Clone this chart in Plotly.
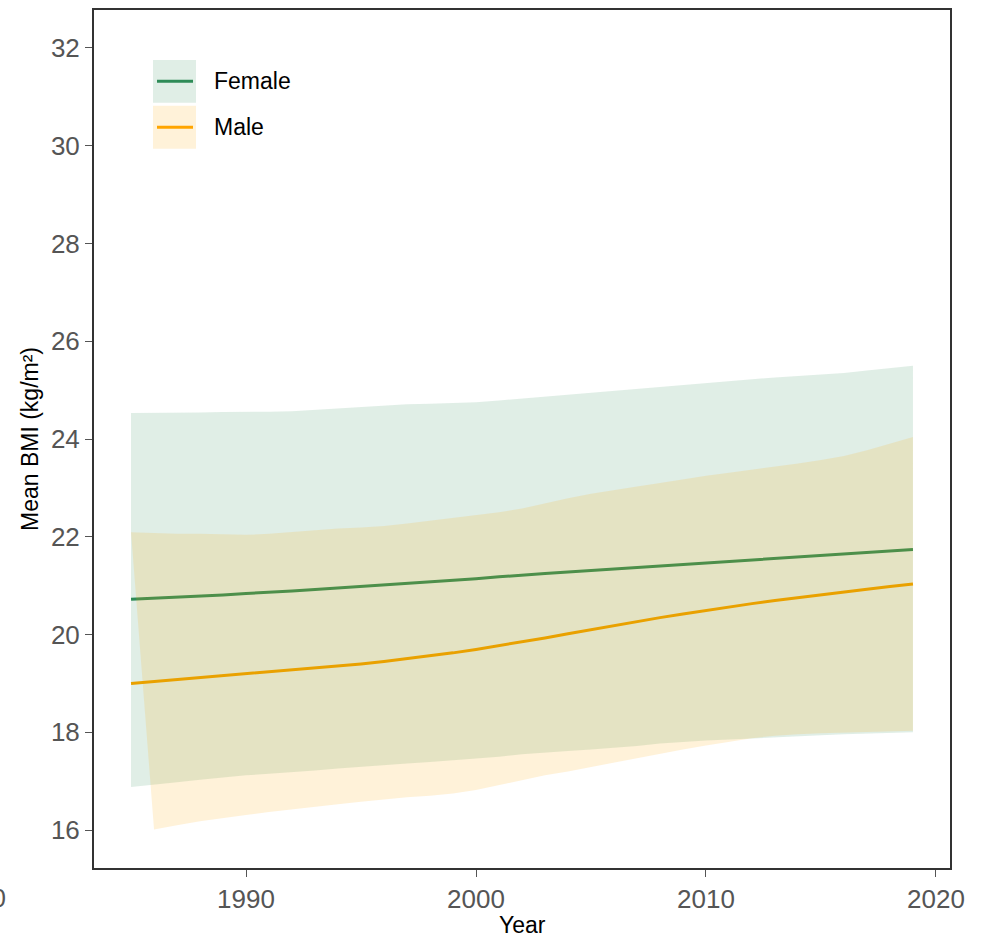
import plotly.graph_objects as go

# Survey years
years = list(range(1985, 2020))

# Female mean BMI and 95% band
female_mean = [20.72, 20.74, 20.76, 20.79, 20.81, 20.84, 20.86, 20.89, 20.92, 20.95,
               20.98, 21.01, 21.04, 21.07, 21.10, 21.14, 21.18, 21.22, 21.25, 21.28,
               21.31, 21.34, 21.37, 21.40, 21.43, 21.46, 21.49, 21.52, 21.55, 21.58,
               21.61, 21.64, 21.67, 21.70, 21.74]
female_upper = [24.53, 24.53, 24.54, 24.54, 24.55, 24.55, 24.56, 24.57, 24.60, 24.63,
                24.65, 24.68, 24.71, 24.72, 24.73, 24.75, 24.79, 24.83, 24.87, 24.90,
                24.94, 24.98, 25.02, 25.06, 25.10, 25.14, 25.18, 25.22, 25.26, 25.29,
                25.32, 25.35, 25.40, 25.45, 25.50]
female_lower = [16.88, 16.93, 16.98, 17.03, 17.08, 17.12, 17.15, 17.18, 17.22, 17.26,
                17.30, 17.33, 17.36, 17.39, 17.42, 17.46, 17.50, 17.55, 17.59, 17.62,
                17.65, 17.68, 17.72, 17.77, 17.80, 17.83, 17.85, 17.88, 17.90, 17.92,
                17.94, 17.96, 17.98, 17.99, 18.00]

# Male mean BMI and 95% band (lower bound unavailable for 1985)
male_mean = [19.00, 19.04, 19.08, 19.12, 19.16, 19.20, 19.236, 19.273, 19.312, 19.354,
             19.399, 19.448, 19.502, 19.561, 19.625, 19.695, 19.770, 19.849, 19.931, 20.015,
             20.100, 20.184, 20.266, 20.346, 20.422, 20.495, 20.565, 20.632, 20.696, 20.757,
             20.816, 20.873, 20.928, 20.981, 21.032]
male_upper = [22.09, 22.07, 22.06, 22.06, 22.05, 22.04, 22.06, 22.10, 22.14, 22.17,
              22.19, 22.22, 22.27, 22.33, 22.39, 22.45, 22.50, 22.58, 22.69, 22.79,
              22.88, 22.96, 23.03, 23.10, 23.18, 23.25, 23.31, 23.37, 23.43, 23.50,
              23.57, 23.65, 23.77, 23.90, 24.04]
male_lower = [None, 16.01, 16.10, 16.18, 16.25, 16.31, 16.37, 16.42, 16.48, 16.53,
              16.58, 16.63, 16.67, 16.70, 16.75, 16.82, 16.92, 17.02, 17.12, 17.20,
              17.28, 17.37, 17.46, 17.56, 17.65, 17.73, 17.81, 17.88, 17.93, 17.96,
              17.98, 18.00, 18.01, 18.02, 18.03]

series_names = ["Female", "Male"]
FONT = "Liberation Sans, Arial, sans-serif"

GREEN = "#2e8b57"
ORANGE = "#ffa500"
GREEN_BAND = "rgba(46,139,87,0.15)"
ORANGE_BAND = "rgba(255,165,0,0.15)"


def band_polygon(xs, upper, lower):
    """Closed polygon: upper edge left→right, lower edge right→left (skipping gaps)."""
    px = list(xs)
    py = list(upper)
    for x, v in reversed(list(zip(xs, lower))):
        if v is not None:
            px.append(x)
            py.append(v)
    return px, py


fig = go.Figure()

fx, fy = band_polygon(years, female_upper, female_lower)
fig.add_trace(go.Scatter(x=fx, y=fy, fill="toself", fillcolor=GREEN_BAND,
                         line=dict(width=0), mode="lines", hoverinfo="skip",
                         showlegend=False))
fig.add_trace(go.Scatter(x=years, y=female_mean, mode="lines", name="Female",
                         line=dict(color=GREEN, width=3), showlegend=False))

mx, my = band_polygon(years, male_upper, male_lower)
fig.add_trace(go.Scatter(x=mx, y=my, fill="toself", fillcolor=ORANGE_BAND,
                         line=dict(width=0), mode="lines", hoverinfo="skip",
                         showlegend=False))
fig.add_trace(go.Scatter(x=years, y=male_mean, mode="lines", name="Male",
                         line=dict(color="#e9a100", width=3), showlegend=False))

# Hand-built legend: shaded swatch with the line across it
W, H = 992, 940
L, R, T, B = 94, 42, 8, 72
pw, ph = W - L - R, H - T - B


def px_to_paper(x, y):
    return (x - L) / pw, 1 - (y - T) / ph


shapes = []
annotations = []
legend_items = [(GREEN_BAND, GREEN, 58), (ORANGE_BAND, ORANGE, 104)]
for name, (band, line, top) in zip(series_names, legend_items):
    x0, y0 = px_to_paper(153, top)
    x1, y1 = px_to_paper(196, top + 43)
    shapes.append(dict(type="rect", xref="paper", yref="paper", x0=x0, x1=x1,
                       y0=y1, y1=y0, fillcolor=band, line=dict(width=0), layer="above"))
    lx0, ly = px_to_paper(157, top + 21.5)
    lx1, _ = px_to_paper(193, top + 21.5)
    shapes.append(dict(type="line", xref="paper", yref="paper", x0=lx0, x1=lx1,
                       y0=ly, y1=ly, line=dict(color=line, width=3), layer="above"))
    tx, ty = px_to_paper(212, top + 21.5)
    annotations.append(dict(text=name, xref="paper", yref="paper", x=tx, y=ty,
                            xanchor="left", yanchor="middle", showarrow=False,
                            font=dict(family=FONT, size=23, color="#000000")))

# Axis titles
ax_x, ax_y = px_to_paper(522, 925)
annotations.append(dict(text="Year", xref="paper", yref="paper", x=ax_x, y=ax_y,
                        xanchor="center", yanchor="middle", showarrow=False,
                        font=dict(family=FONT, size=23, color="#000000")))
ay_x, ay_y = px_to_paper(30, 438)
annotations.append(dict(text="Mean BMI (kg/m²)", xref="paper", yref="paper",
                        x=ay_x, y=ay_y, xanchor="center", yanchor="middle",
                        textangle=-90, showarrow=False,
                        font=dict(family=FONT, size=23, color="#000000")))
# Stray tick label beyond the left edge of the x range
sx, sy = px_to_paper(8, 898)
annotations.append(dict(text="1980", xref="paper", yref="paper", x=sx, y=sy,
                        xanchor="right", yanchor="middle", showarrow=False,
                        font=dict(family=FONT, size=26, color="#555555")))

fig.update_layout(
    width=W, height=H,
    margin=dict(l=L, r=R, t=T, b=B),
    paper_bgcolor="white", plot_bgcolor="white",
    font=dict(family=FONT),
    shapes=shapes, annotations=annotations,
    showlegend=False,
)
fig.update_xaxes(range=[1983.39, 2020.61], tickvals=[1990, 2000, 2010, 2020],
                 showgrid=False, zeroline=False, showline=True, mirror=True,
                 linecolor="#333333", linewidth=2, ticks="outside", ticklen=7,
                 tickwidth=1, tickcolor="#555555",
                 tickfont=dict(family=FONT, size=26, color="#555555"))
fig.update_yaxes(range=[15.224, 32.776], tickvals=[16, 18, 20, 22, 24, 26, 28, 30, 32],
                 showgrid=False, zeroline=False, showline=True, mirror=True,
                 linecolor="#333333", linewidth=2, ticks="outside", ticklen=7,
                 tickwidth=1, tickcolor="#555555",
                 tickfont=dict(family=FONT, size=26, color="#555555"))

fig.write_html("out.html")
